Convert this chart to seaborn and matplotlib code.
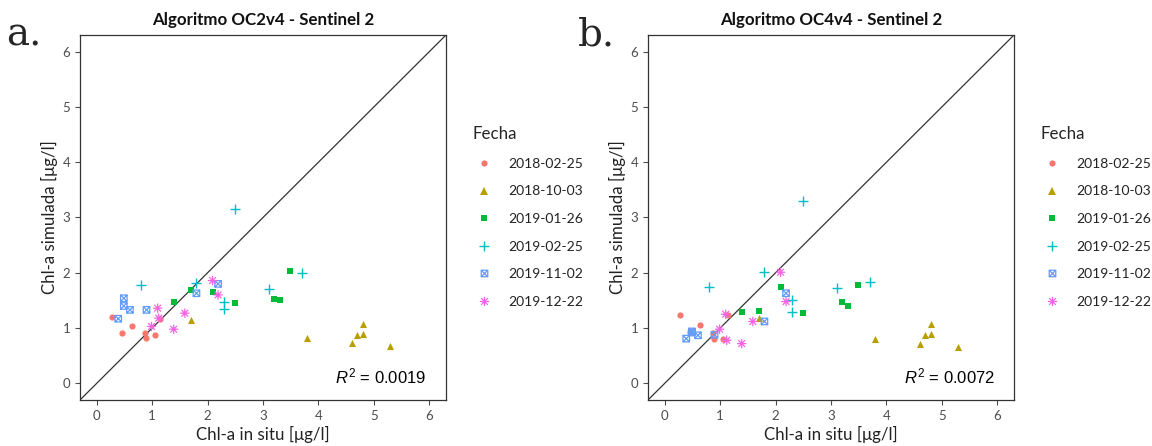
import numpy as np
import pandas as pd
import matplotlib
matplotlib.use("Agg")
import matplotlib.pyplot as plt
import seaborn as sns
from matplotlib.path import Path
from matplotlib.lines import Line2D

# ---------------- data ----------------
fechas = ["2018-02-25", "2018-10-03", "2019-01-26", "2019-02-25", "2019-11-02", "2019-12-22"]
colores = ["#F8766D", "#B79F00", "#00BA38", "#00BFC4", "#619CFF", "#F564E3"]

insitu_180225 = [0.27, 0.45, 0.63, 0.87, 0.89, 1.06, 1.14]
oc2_180225 = [1.20, 0.92, 1.04, 0.92, 0.82, 0.88, 1.17]
oc4_180225 = [1.24, 0.93, 1.05, 0.92, 0.81, 0.81, 1.23]

insitu_181003 = [1.70, 3.80, 4.60, 4.70, 4.80, 4.80, 5.29]
oc2_181003 = [1.14, 0.83, 0.73, 0.88, 0.90, 1.08, 0.67]
oc4_181003 = [1.19, 0.81, 0.71, 0.87, 0.90, 1.08, 0.65]

insitu_190126 = [1.40, 1.70, 2.10, 2.50, 3.20, 3.30, 3.49]
oc2_190126 = [1.47, 1.69, 1.66, 1.46, 1.53, 1.50, 2.03]
oc4_190126 = [1.29, 1.31, 1.75, 1.27, 1.48, 1.40, 1.78]

insitu_190225 = [0.80, 1.80, 2.30, 2.30, 2.50, 3.10, 3.70]
oc2_190225 = [1.78, 1.82, 1.48, 1.34, 3.15, 1.70, 2.00]
oc4_190225 = [1.75, 2.01, 1.50, 1.29, 3.29, 1.72, 1.84]

insitu_191102 = [0.39, 0.49, 0.49, 0.60, 0.90, 1.80, 2.19]
oc2_191102 = [1.17, 1.54, 1.40, 1.33, 1.33, 1.63, 1.80]
oc4_191102 = [0.81, 0.94, 0.92, 0.87, 0.88, 1.12, 1.63]

insitu_191222 = [0.99, 1.10, 1.12, 1.39, 1.59, 2.09, 2.19]
oc2_191222 = [1.03, 1.36, 1.18, 0.98, 1.27, 1.86, 1.60]
oc4_191222 = [0.98, 1.25, 0.78, 0.72, 1.12, 2.01, 1.48]

r2_oc2 = "0.0019"
r2_oc4 = "0.0072"

insitu_all = [insitu_180225, insitu_181003, insitu_190126, insitu_190225, insitu_191102, insitu_191222]
oc2_all = [oc2_180225, oc2_181003, oc2_190126, oc2_190225, oc2_191102, oc2_191222]
oc4_all = [oc4_180225, oc4_181003, oc4_190126, oc4_190225, oc4_191102, oc4_191222]

frames = []
for f, xi, y2, y4 in zip(fechas, insitu_all, oc2_all, oc4_all):
    frames.append(pd.DataFrame({"Fecha": f, "insitu": xi, "oc2": y2, "oc4": y4}))
df = pd.concat(frames, ignore_index=True)

# ---------------- style ----------------
sns.set_theme(style="white")
plt.rcParams["font.family"] = ["Lato", "DejaVu Sans"]
plt.rcParams["mathtext.fontset"] = "custom"
plt.rcParams["mathtext.rm"] = "Liberation Sans"
plt.rcParams["mathtext.it"] = "Liberation Sans:italic"

M, L, C = Path.MOVETO, Path.LINETO, Path.CLOSEPOLY
sq_cross = Path([(-1, -1), (1, -1), (1, 1), (-1, 1), (-1, -1), (-1, -1), (1, 1), (-1, 1), (1, -1)],
                [M, L, L, L, C, M, L, M, L])
d = 0.72
asterisk = Path([(-1, 0), (1, 0), (0, -1), (0, 1), (-d, -d), (d, d), (-d, d), (d, -d)],
                [M, L, M, L, M, L, M, L])

estilos = {
    "2018-02-25": dict(marker="o", s=20, linewidth=0),
    "2018-10-03": dict(marker="^", s=26, linewidth=0),
    "2019-01-26": dict(marker="s", s=18, linewidth=0),
    "2019-02-25": dict(marker="+", s=60, linewidth=1.0),
    "2019-11-02": dict(marker=sq_cross, s=22, linewidth=0.9),
    "2019-12-22": dict(marker=asterisk, s=45, linewidth=0.9),
}
hollow = {"2019-11-02", "2019-12-22"}

grey_txt = "#4D4D4D"
border = "#333333"

fig = plt.figure(figsize=(11.52, 4.46), dpi=100)
ax1 = fig.add_axes([80 / 1152, 46 / 446, 366 / 1152, 365 / 446])
ax2 = fig.add_axes([648 / 1152, 46 / 446, 366 / 1152, 365 / 446])

for ax, col, titulo, r2 in [(ax1, "oc2", "Algoritmo OC2v4 - Sentinel 2", r2_oc2),
                            (ax2, "oc4", "Algoritmo OC4v4 - Sentinel 2", r2_oc4)]:
    ax.axline((0, 0), (1, 1), color="#333333", lw=0.9, zorder=1)
    for f, c in zip(fechas, colores):
        sub = df[df["Fecha"] == f]
        kw = dict(estilos[f])
        if f in hollow:
            sns.scatterplot(data=sub, x="insitu", y=col, ax=ax, facecolor="none",
                            edgecolor=c, zorder=3, legend=False, **kw)
        else:
            sns.scatterplot(data=sub, x="insitu", y=col, ax=ax, color=c,
                            zorder=3, legend=False, **kw)
    ax.set_xlim(-0.3, 6.3)
    ax.set_ylim(-0.3, 6.3)
    ax.set_xticks(range(0, 7))
    ax.set_yticks(range(0, 7))
    ax.tick_params(axis="both", colors=grey_txt, labelsize=9.5, length=3.5, width=0.8,
                   direction="out", bottom=True, left=True)
    for sp in ax.spines.values():
        sp.set_color(border)
        sp.set_linewidth(0.9)
    ax.set_xlabel("Chl-a in situ [μg/l]", fontsize=12.2, color="#222222", labelpad=3)
    ax.set_ylabel("Chl-a simulada [μg/l]", fontsize=12.2, color="#222222", labelpad=3)
    ax.set_title(titulo, fontsize=12.2, fontweight="bold", color="#111111", pad=7)
    ax.text(5.95, 0.13, r"$R^2$ = " + r2, ha="right", va="center", fontsize=12,
            family="Liberation Sans", color="black")

    handles = []
    for f, c in zip(fechas, colores):
        st = estilos[f]
        if f in hollow:
            h = Line2D([], [], linestyle="none", marker=st["marker"], markersize=np.sqrt(st["s"]),
                       markerfacecolor="none", markeredgecolor=c, markeredgewidth=st["linewidth"])
        elif f == "2019-02-25":
            h = Line2D([], [], linestyle="none", marker="+", markersize=np.sqrt(st["s"]),
                       color=c, markeredgewidth=st["linewidth"])
        else:
            h = Line2D([], [], linestyle="none", marker=st["marker"], markersize=np.sqrt(st["s"]),
                       color=c, markeredgewidth=0)
        handles.append(h)
    leg = ax.legend(handles, fechas, title="Fecha", loc="upper left",
                    bbox_to_anchor=(1.058, 0.765), frameon=False, fontsize=10,
                    title_fontsize=12.2, labelspacing=1.12, handletextpad=0.95,
                    handlelength=1.6, borderaxespad=0)
    leg._legend_box.align = "left"
    for t in leg.get_texts():
        t.set_color("#222222")

fig.text(6 / 1152, 1 - 45 / 446, "a.", family="DejaVu Serif", fontsize=28, va="baseline")
fig.text(578 / 1152, 1 - 45 / 446, "b.", family="DejaVu Serif", fontsize=28, va="baseline")

fig.savefig("out.png", dpi=100, facecolor="white")
